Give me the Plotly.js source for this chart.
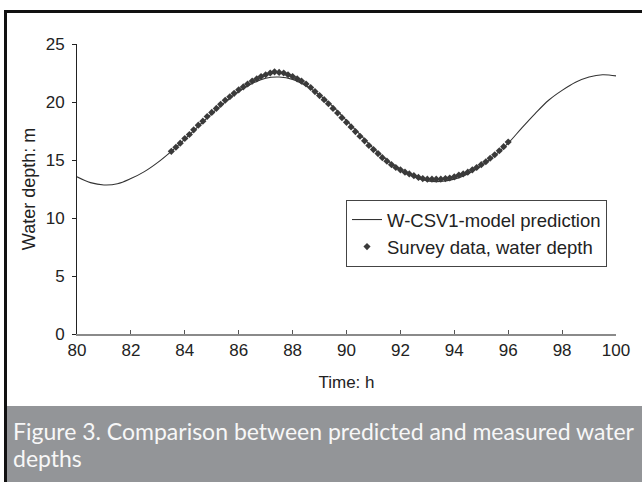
<!DOCTYPE html>
<html>
<head>
<meta charset="utf-8">
<script src="https://cdn.plot.ly/plotly-3.0.1.min.js"></script>
<style>html,body{margin:0;padding:0;background:#fff;}#chart{width:642px;height:482px;}</style>
</head>
<body>
<div id="chart"></div>
<script>
// Model prediction (W-CSV1), time in hours, water depth in m
const modelTime = [80, 80.5, 81, 81.5, 82, 82.5, 83, 83.5, 84, 84.5, 85, 85.5, 86, 86.5, 87, 87.5, 88, 88.5, 89, 89.5, 90, 90.5, 91, 91.5, 92, 92.5, 93, 93.5, 94, 94.5, 95, 95.5, 96, 96.5, 97, 97.5, 98, 98.5, 99, 99.5, 100];
const modelDepth = [13.55, 13.05, 12.85, 12.95, 13.4, 14.0, 14.8, 15.75, 16.8, 17.9, 19.0, 20.0, 20.9, 21.6, 22.05, 22.15, 21.95, 21.4, 20.6, 19.6, 18.4, 17.2, 16.0, 15.0, 14.15, 13.55, 13.2, 13.15, 13.35, 13.8, 14.5, 15.4, 16.45, 17.75, 19.0, 20.15, 21.0, 21.7, 22.15, 22.35, 22.25];

// Survey data, water depth
const surveyTime = [83.50, 83.67, 83.83, 84.00, 84.17, 84.33, 84.50, 84.67, 84.83, 85.00, 85.17, 85.33, 85.50, 85.67, 85.83, 86.00, 86.17, 86.33, 86.50, 86.67, 86.83, 87.00, 87.17, 87.33, 87.50, 87.67, 87.83, 88.00, 88.17, 88.33, 88.50, 88.67, 88.83, 89.00, 89.17, 89.33, 89.50, 89.67, 89.83, 90.00, 90.17, 90.33, 90.50, 90.67, 90.83, 91.00, 91.17, 91.33, 91.50, 91.67, 91.83, 92.00, 92.17, 92.33, 92.50, 92.67, 92.83, 93.00, 93.17, 93.33, 93.50, 93.67, 93.83, 94.00, 94.17, 94.33, 94.50, 94.67, 94.83, 95.00, 95.17, 95.33, 95.50, 95.67, 95.83, 96.00];
const surveyDepth = [15.75, 16.1, 16.45, 16.85, 17.2, 17.6, 18.0, 18.35, 18.75, 19.1, 19.45, 19.8, 20.15, 20.45, 20.75, 21.05, 21.3, 21.55, 21.8, 22.0, 22.2, 22.35, 22.5, 22.6, 22.55, 22.5, 22.35, 22.2, 22.0, 21.8, 21.55, 21.25, 20.9, 20.55, 20.2, 19.85, 19.45, 19.05, 18.65, 18.25, 17.85, 17.45, 17.05, 16.65, 16.25, 15.9, 15.55, 15.2, 14.9, 14.6, 14.35, 14.15, 13.95, 13.8, 13.65, 13.5, 13.4, 13.35, 13.35, 13.35, 13.35, 13.4, 13.45, 13.55, 13.7, 13.8, 13.95, 14.15, 14.35, 14.6, 14.85, 15.15, 15.45, 15.8, 16.15, 16.55];

const xTicks = [80, 82, 84, 86, 88, 90, 92, 94, 96, 98, 100];
const yTicks = [0, 5, 10, 15, 20, 25];
const seriesNames = ['W-CSV1-model prediction', 'Survey data, water depth'];
const xTitle = 'Time: h';
const yTitle = 'Water depth: m';
const captionLines = ['Figure 3. Comparison between predicted and measured water', 'depths'];

// layout geometry (pixels)
const W = 642, H = 482;
const L = 77, R = 616, T = 44, B = 334;
const pw = R - L, ph = B - T;
const px = v => (v - L) / pw;
const py = v => (B - v) / ph;

const traces = [
  {
    x: modelTime, y: modelDepth, name: seriesNames[0], type: 'scatter', mode: 'lines',
    line: {color: '#333333', width: 1.1, shape: 'spline', smoothing: 1}
  },
  {
    x: surveyTime, y: surveyDepth, name: seriesNames[1], type: 'scatter', mode: 'markers',
    marker: {symbol: 'diamond', size: 5.5, color: '#3a3a3a'}
  }
];

const capFont = {family: 'Lato, "Open Sans", sans-serif', size: 23, color: '#f7f7f7'};

const layout = {
  width: W, height: H,
  margin: {l: L, r: W - R, t: T, b: H - B, pad: 0},
  paper_bgcolor: '#ffffff', plot_bgcolor: '#ffffff',
  font: {family: '"Liberation Sans", Arial, sans-serif', size: 17, color: '#222222'},
  showlegend: true,
  xaxis: {
    range: [80, 100], tickvals: xTicks, ticktext: xTicks.map(String),
    showgrid: false, zeroline: false, showline: true, linecolor: '#8a8a8a', linewidth: 1.5,
    ticks: 'inside', ticklen: 4, tickcolor: '#555', tickwidth: 1,
    tickfont: {size: 17, color: '#222'},
    title: {text: xTitle, font: {size: 17, color: '#222'}, standoff: 17},
    fixedrange: true
  },
  yaxis: {
    range: [0, 25], tickvals: yTicks, ticktext: yTicks.map(String),
    showgrid: false, zeroline: false, showline: true, linecolor: '#222', linewidth: 1,
    ticks: 'outside', ticklen: 4, tickcolor: '#222', tickwidth: 1,
    ticklabelstandoff: 4,
    tickfont: {size: 17, color: '#222'},
    title: {text: yTitle, font: {size: 18, color: '#222'}, standoff: 5},
    fixedrange: true
  },
  legend: {
    x: px(346), y: py(200), xanchor: 'left', yanchor: 'top',
    bgcolor: '#ffffff', bordercolor: '#444444', borderwidth: 1,
    font: {size: 18.5, color: '#222'}, itemwidth: 30
  },
  shapes: [
    {type: 'rect', xref: 'paper', yref: 'paper', x0: px(7), x1: px(643), y0: py(483), y1: py(406),
     fillcolor: '#939598', line: {width: 0}, layer: 'below'},
    {type: 'line', xref: 'paper', yref: 'paper', x0: px(4.5), x1: px(643), y0: py(11.5), y1: py(11.5),
     line: {color: '#111', width: 3}},
    {type: 'line', xref: 'paper', yref: 'paper', x0: px(5.5), x1: px(5.5), y0: py(10), y1: py(483),
     line: {color: '#111', width: 3}}
  ],
  annotations: [
    {text: captionLines[0], xref: 'paper', yref: 'paper', x: px(11), y: py(431), xanchor: 'left', yanchor: 'middle',
     align: 'left', showarrow: false, font: capFont},
    {text: captionLines[1], xref: 'paper', yref: 'paper', x: px(11), y: py(458), xanchor: 'left', yanchor: 'middle',
     align: 'left', showarrow: false, font: capFont}
  ]
};

Plotly.newPlot('chart', traces, layout, {displayModeBar: false, staticPlot: true});
</script>
</body>
</html>
